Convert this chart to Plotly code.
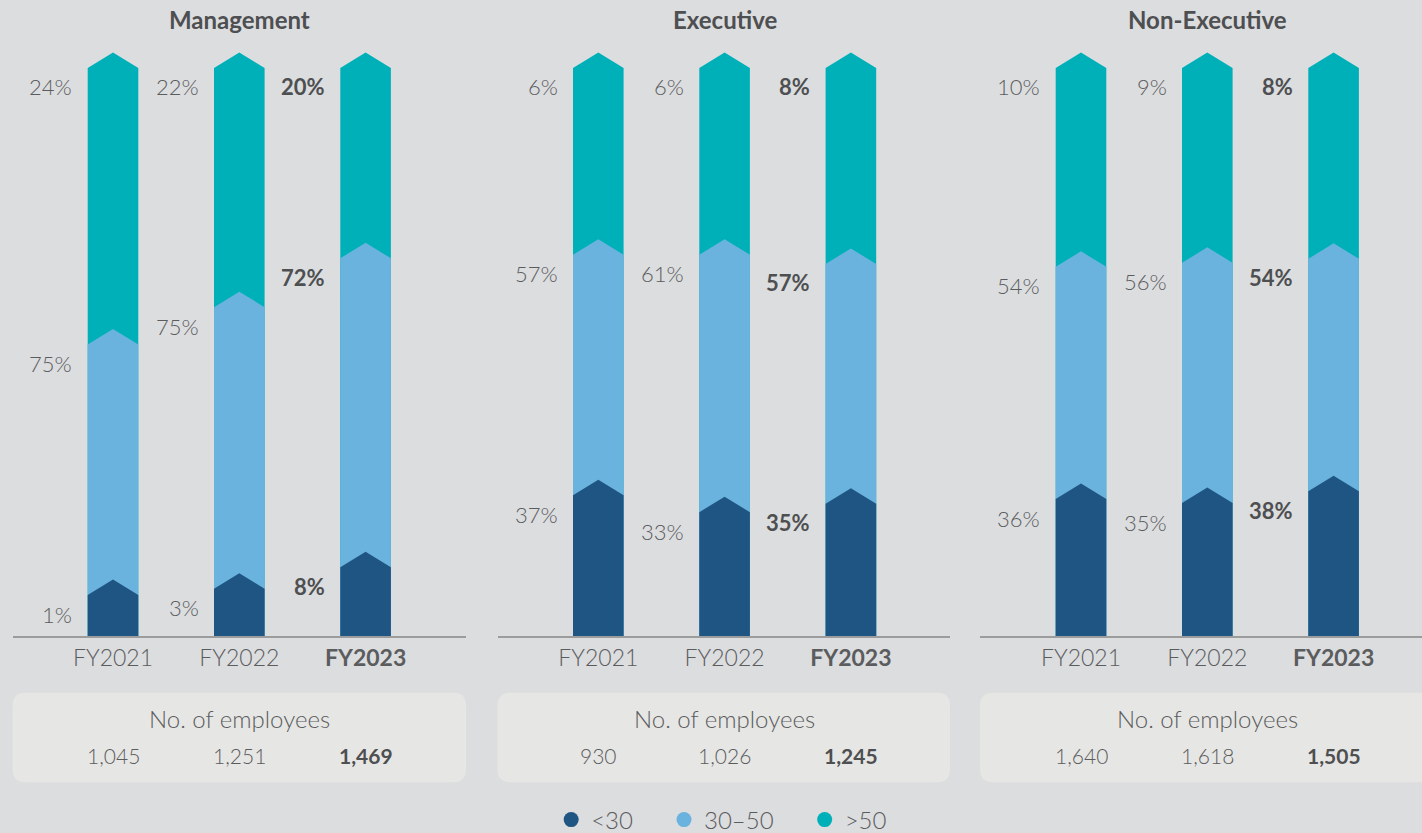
import plotly.graph_objects as go

# ---------------- data ----------------
years = ["FY2021", "FY2022", "FY2023"]
panels = ["Management", "Executive", "Non-Executive"]
age_groups = ["<30", "30\u201350", ">50"]

# reported shares (%) per age group
mgmt_lt30 = [1, 3, 8]
mgmt_30_50 = [75, 75, 72]
mgmt_gt50 = [24, 22, 20]

exec_lt30 = [37, 33, 35]
exec_30_50 = [57, 61, 57]
exec_gt50 = [6, 6, 8]

nonexec_lt30 = [36, 35, 38]
nonexec_30_50 = [54, 56, 54]
nonexec_gt50 = [10, 9, 8]

# segment heights as drawn in the (not-to-scale) infographic, 0-100 scale
mgmt_drawn_lt30 = [7.2, 8.3, 12.1]
mgmt_drawn_30_50 = [44.1, 49.6, 54.4]
mgmt_drawn_gt50 = [48.7, 42.1, 33.5]

exec_drawn_lt30 = [24.8, 21.8, 23.3]
exec_drawn_30_50 = [42.3, 45.3, 42.2]
exec_drawn_gt50 = [32.9, 32.9, 34.5]

nonexec_drawn_lt30 = [24.1, 23.4, 25.5]
nonexec_drawn_30_50 = [40.9, 42.3, 40.9]
nonexec_drawn_gt50 = [35.0, 34.3, 33.6]

# number of employees
mgmt_employees = [1045, 1251, 1469]
exec_employees = [930, 1026, 1245]
nonexec_employees = [1640, 1618, 1505]

# ---------------- styling ----------------
W, H = 1422, 833
BG = "#dcdddf"
BOX = "#e6e6e4"
TXT = "#5b5c5e"
TXT_B = "#4e4f51"
COLORS = ["#1f5583", "#69b3de", "#00b0b9"]
FONT = "Lato"

panel_data = [
    (
        [mgmt_lt30, mgmt_30_50, mgmt_gt50],
        [mgmt_drawn_lt30, mgmt_drawn_30_50, mgmt_drawn_gt50],
        mgmt_employees,
    ),
    (
        [exec_lt30, exec_30_50, exec_gt50],
        [exec_drawn_lt30, exec_drawn_30_50, exec_drawn_gt50],
        exec_employees,
    ),
    (
        [nonexec_lt30, nonexec_30_50, nonexec_gt50],
        [nonexec_drawn_lt30, nonexec_drawn_30_50, nonexec_drawn_gt50],
        nonexec_employees,
    ),
]

# layout geometry (pixels)
panel_px = [(12.7, 466.0, 113.0), (497.5, 950.0, 598.3), (980.0, 1422.0, 1081.0)]
UNIT_PX = 126.3          # px between bar centers
BASE_PX = 636.0          # baseline y px
TOP_PX = 68.0            # y px of the 100 level
Y_PER_PX = 100.0 / (BASE_PX - TOP_PX)
Y_MAX = 106.0
HALF_W = 25.3 / UNIT_PX
TIP = 15.5 * Y_PER_PX

def py(px):
    return 1 - px / H

fig = go.Figure()
layout_axes = {}
annotations = []
shapes = []

for p, (shares, drawn, emp) in enumerate(panel_data):
    xa = "x" if p == 0 else f"x{p+1}"
    ya = "y" if p == 0 else f"y{p+1}"
    left, right, c0 = panel_px[p]
    x0 = (left - c0) / UNIT_PX
    x1 = (right - c0) / UNIT_PX
    key = "" if p == 0 else str(p + 1)

    # cumulative drawn levels
    cum = []
    run = [0.0] * len(years)
    for s in range(3):
        run = [run[i] + drawn[s][i] for i in range(len(years))]
        cum.append(run)

    # draw from top series down so lower chevrons overlap
    for s in [2, 1, 0]:
        xs, ys = [], []
        for i in range(len(years)):
            lvl = cum[s][i]
            xs += [i - HALF_W, i - HALF_W, i, i + HALF_W, i + HALF_W, i - HALF_W, None]
            ys += [0, lvl, lvl + TIP, lvl, 0, 0, None]
        fig.add_trace(go.Scatter(
            x=xs, y=ys, mode="lines", fill="toself",
            fillcolor=COLORS[s], line=dict(width=0, color=COLORS[s]),
            xaxis=xa, yaxis=ya, showlegend=False, hoverinfo="skip",
        ))
        # percentage labels
        for i in range(len(years)):
            bold = i == len(years) - 1
            txt = f"{shares[s][i]}%"
            annotations.append(dict(
                x=i - HALF_W, y=cum[s][i], xref=xa, yref=ya,
                text=f"<b>{txt}</b>" if bold else txt,
                showarrow=False, xanchor="right", yanchor="middle",
                xshift=-13.5, yshift=-19,
                font=dict(family=FONT, size=22, color=TXT_B if bold else TXT,
                          weight=700 if bold else 300),
            ))

    layout_axes[f"xaxis{key}"] = dict(
        domain=[left / W, right / W], range=[x0, x1], anchor=ya,
        tickmode="array", tickvals=list(range(len(years))),
        ticktext=[y if i < len(years) - 1 else f"<b>{y}</b>" for i, y in enumerate(years)],
        tickfont=dict(family=FONT, size=23, color=TXT, weight=300),
        showline=True, linecolor="#9c9c9c", linewidth=2,
        showgrid=False, zeroline=False, ticks="", fixedrange=True,
    )
    layout_axes[f"yaxis{key}"] = dict(
        domain=[py(BASE_PX), py(BASE_PX - Y_MAX / Y_PER_PX)], range=[0, Y_MAX],
        anchor=xa, visible=False, showgrid=False, zeroline=False, fixedrange=True,
    )

    # panel title
    annotations.append(dict(
        x=1, y=py(20), xref=xa, yref="paper", text=f"<b>{panels[p]}</b>",
        showarrow=False, xanchor="center", yanchor="middle",
        font=dict(family=FONT, size=24, color=TXT_B),
    ))

    # employees box
    bx0, bx1 = left / W, right / W
    by0, by1 = py(782.3), py(692.7)
    rx, ry = 13 / W, 13 / H
    path = (f"M {bx0+rx},{by1} L {bx1-rx},{by1} Q {bx1},{by1} {bx1},{by1-ry} "
            f"L {bx1},{by0+ry} Q {bx1},{by0} {bx1-rx},{by0} L {bx0+rx},{by0} "
            f"Q {bx0},{by0} {bx0},{by0+ry} L {bx0},{by1-ry} Q {bx0},{by1} {bx0+rx},{by1} Z")
    if p == 2:
        bx1 = 1.02
        path = (f"M {bx0+rx},{by1} L {bx1},{by1} L {bx1},{by0} L {bx0+rx},{by0} "
                f"Q {bx0},{by0} {bx0},{by0+ry} L {bx0},{by1-ry} Q {bx0},{by1} {bx0+rx},{by1} Z")
    shapes.append(dict(type="path", xref="paper", yref="paper", path=path,
                       fillcolor=BOX, line=dict(width=0), layer="below"))
    annotations.append(dict(
        x=1, y=py(718), xref=xa, yref="paper", text="No. of employees",
        showarrow=False, xanchor="center", yanchor="middle",
        font=dict(family=FONT, size=24, color=TXT, weight=300),
    ))
    for i, n in enumerate(emp):
        bold = i == len(emp) - 1
        t = f"{n:,}"
        annotations.append(dict(
            x=i, y=py(755), xref=xa, yref="paper",
            text=f"<b>{t}</b>" if bold else t,
            showarrow=False, xanchor="center", yanchor="middle",
            font=dict(family=FONT, size=21, color=TXT_B if bold else TXT,
                      weight=700 if bold else 300),
        ))

# legend entries
NBSP = "\u00a0"
for s, name in enumerate(age_groups):
    pad = NBSP * 4 if s < len(age_groups) - 1 else ""
    fig.add_trace(go.Scatter(
        x=[None], y=[None], mode="markers", name=name + pad,
        marker=dict(symbol="circle", size=15, color=COLORS[s]),
        showlegend=True,
    ))

fig.update_layout(
    width=W, height=H,
    margin=dict(l=0, r=0, t=0, b=0, autoexpand=False),
    paper_bgcolor=BG, plot_bgcolor=BG,
    showlegend=True,
    legend=dict(
        orientation="h", x=0.5075, xanchor="center", y=py(820), yanchor="middle",
        font=dict(family=FONT, size=24, color=TXT, weight=300),
        bgcolor="rgba(0,0,0,0)", itemsizing="trace",
    ),
    annotations=annotations,
    shapes=shapes,
    **layout_axes,
)

post = (
    "document.body.style.margin='0';"
    "document.body.style.overflow='hidden';"
    "document.documentElement.style.overflow='hidden';"
)
fig.write_html("out.html", post_script=post, config={"displayModeBar": False})
